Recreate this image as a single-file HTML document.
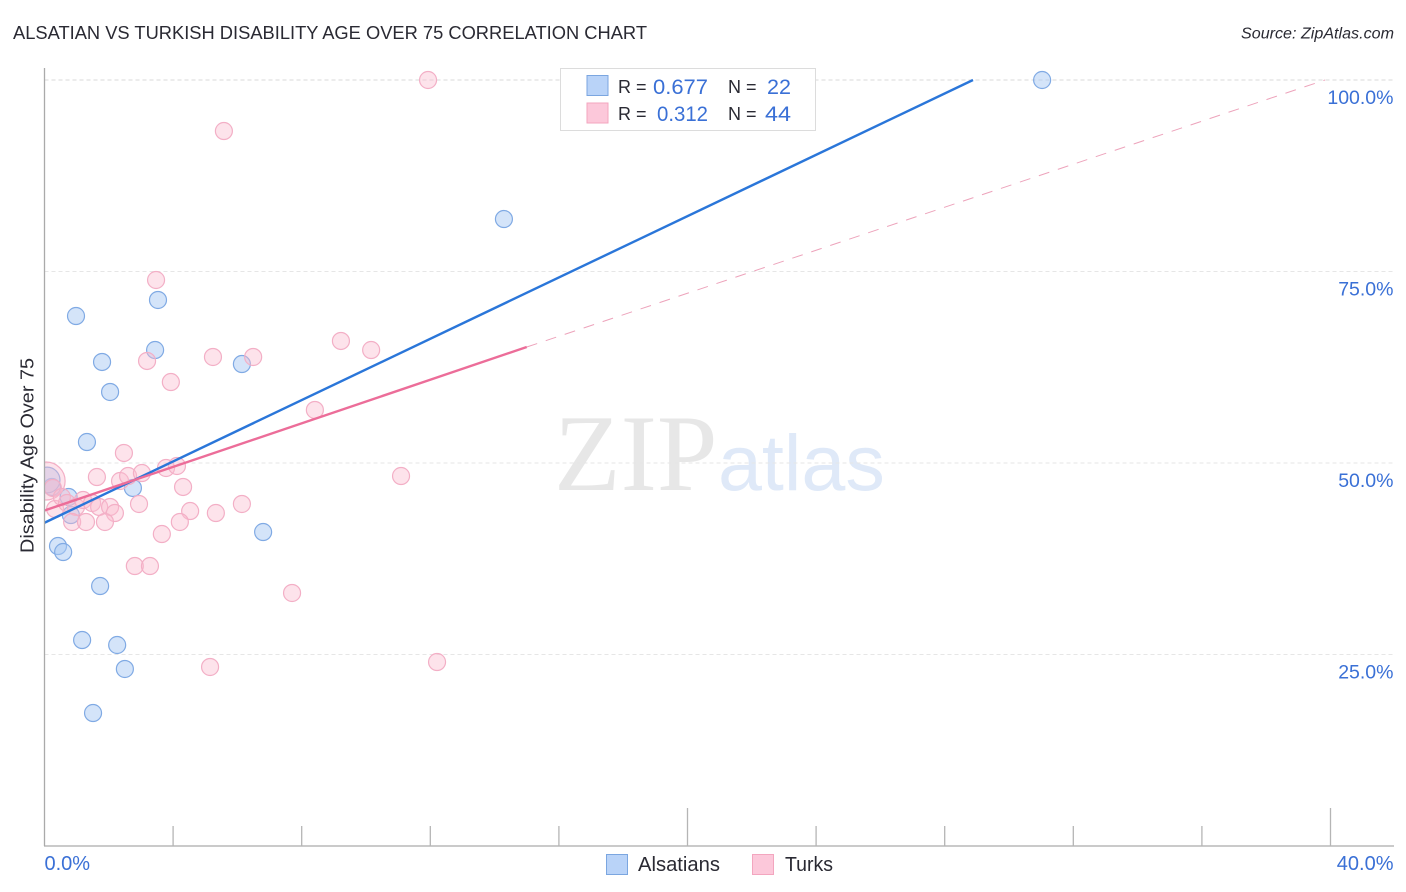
<!DOCTYPE html>
<html lang="en">
<head>
<meta charset="utf-8">
<title>Alsatian vs Turkish Disability Age Over 75 Correlation Chart</title>
<style>
html,body{margin:0;padding:0;background:#fff;}
svg{display:block;font-family:"Liberation Sans",sans-serif;}
</style>
</head>
<body>
<svg id="chart" width="1406" height="892" viewBox="0 0 1406 892" xmlns="http://www.w3.org/2000/svg">
  <rect x="0" y="0" width="1406" height="892" fill="#fff"/>
  <text x="13" y="39" font-size="18.5" fill="#2a2a33" textLength="634" lengthAdjust="spacingAndGlyphs">ALSATIAN VS TURKISH DISABILITY AGE OVER 75 CORRELATION CHART</text>
  <text x="1394" y="38.500" font-size="15.5" font-style="italic" fill="#2a2a33" text-anchor="end" textLength="153" lengthAdjust="spacingAndGlyphs">Source: ZipAtlas.com</text>

  <g>
    <text x="554" y="490" font-family="'Liberation Serif',serif" font-size="109" fill="#e7e7e7">ZIP</text>
    <text x="718" y="490" font-size="79" fill="#dfe9f8">atlas</text>
  </g>

  <g id="grid"></g>
  <g id="marks"></g>
  <rect x="0" y="60" width="44.500" height="786" fill="#fff"/>
  <g id="axes"></g>
  <g id="ylabels"></g>
  <g id="xlabels"></g>

  <text transform="translate(33.500,553) rotate(-90)" font-size="18" fill="#2a2a33" textLength="195" lengthAdjust="spacingAndGlyphs">Disability Age Over 75</text>

  <g>
    <rect x="560.500" y="68.500" width="255" height="62" fill="#fff" stroke="#dcdcdc"/>
    <rect x="587" y="75.500" width="21" height="20" fill="#b9d3f8" stroke="#7ba6e0"/>
    <rect x="587" y="103" width="21" height="20" fill="#fcc8da" stroke="#f3a6bf"/>
    <text x="618" y="93" font-size="18" fill="#2a2a33">R =</text>
    <text x="653" y="94" font-size="21.500" fill="#3a70d6" textLength="55" lengthAdjust="spacingAndGlyphs">0.677</text>
    <text x="728" y="93" font-size="18" fill="#2a2a33">N =</text>
    <text x="767" y="94" font-size="21.500" fill="#3a70d6" textLength="24" lengthAdjust="spacingAndGlyphs">22</text>
    <text x="618" y="120" font-size="18" fill="#2a2a33">R =</text>
    <text x="657" y="121" font-size="21.500" fill="#3a70d6" textLength="51" lengthAdjust="spacingAndGlyphs">0.312</text>
    <text x="728" y="120" font-size="18" fill="#2a2a33">N =</text>
    <text x="765" y="121" font-size="21.500" fill="#3a70d6" textLength="26" lengthAdjust="spacingAndGlyphs">44</text>
  </g>

  <g>
    <rect x="606.500" y="854.500" width="21" height="20" fill="#b9d3f8" stroke="#7ba6e0"/>
    <text x="638" y="871" font-size="20" fill="#2a2a33" textLength="82" lengthAdjust="spacingAndGlyphs">Alsatians</text>
    <rect x="752.500" y="854.500" width="21" height="20" fill="#fcc8da" stroke="#f3a6bf"/>
    <text x="785" y="871" font-size="20" fill="#2a2a33" textLength="48" lengthAdjust="spacingAndGlyphs">Turks</text>
  </g>

<script>
// Data (percent units)
const yTickValues = [25, 50, 75, 100];
const yTickLabels = ["25.0%", "50.0%", "75.0%", "100.0%"];
const xTickValues = [0, 4, 8, 12, 16, 20, 24, 28, 32, 36, 40];
const xEndValues = [0, 40];
const xEndLabels = ["0.0%", "40.0%"];

const alsatianX = [31.03,14.29,3.53,0.98,3.44,1.79,6.14,2.04,1.32,2.75,0.23,0.08,0.75,0.82,0.42,0.58,6.80,1.73,1.17,2.26,2.50,1.51];
const alsatianY = [100,81.85,71.28,69.19,64.75,63.19,62.92,59.27,52.74,46.74,46.87,47.78,45.56,43.21,39.16,38.38,40.99,33.94,26.89,26.24,23.11,17.36];
const alsatianWeight = [1,1,1,1,1,1,1,1,1,1,1,2.3,1,1,1,1,1,1,1,1,1,1];

const turkX = [11.93,5.58,3.47,9.22,10.16,5.24,6.49,3.19,3.93,8.41,2.47,11.09,1.63,2.35,2.60,3.03,3.78,4.12,4.31,2.94,6.14,4.53,5.33,4.21,3.65,2.81,3.28,7.70,5.15,12.21,0.05,0.26,0.33,0.54,0.70,0.98,0.86,1.29,1.20,1.48,1.70,2.04,2.19,1.88];
const turkY = [100,93.34,73.89,65.93,64.75,63.84,63.84,63.32,60.57,56.92,51.31,48.30,48.17,47.65,48.30,48.69,49.35,49.61,46.87,44.65,44.65,43.73,43.47,42.30,40.73,36.55,36.55,33.03,23.37,24.02,47.65,46.74,43.99,45.56,44.78,44.26,42.30,42.30,45.17,44.78,44.26,44.26,43.47,42.30];
const turkWeight = [1,1,1,1,1,1,1,1,1,1,1,1,1,1,1,1,1,1,1,1,1,1,1,1,1,1,1,1,1,1,5,1,1,1,1,1,1,1,1,1,1,1,1,1];

const alsatianTrendX = [0, 28.88];
const alsatianTrendY = [42.2, 100];
const turkTrendX = [0, 15.0];
const turkTrendY = [43.8, 65.14];
const turkDashX = [15.0, 39.83];
const turkDashY = [65.14, 100];

// Axis functions
function xPos(v){ return 44.5 + v * 32.15; }
function yPos(v){ return 846 - v * 7.66; }
function radius(w){ return 8.5 * Math.sqrt(w); }

const NS = "http://www.w3.org/2000/svg";
function make(tag, parent, props){
  const el = document.createElementNS(NS, tag);
  for (const k in props) el.setAttribute(k, props[k]);
  parent.appendChild(el);
  return el;
}

const grid = document.getElementById("grid");
const axes = document.getElementById("axes");
const marks = document.getElementById("marks");
const ylabels = document.getElementById("ylabels");
const xlabels = document.getElementById("xlabels");

yTickValues.forEach(function(v, i){
  const g = make("line", grid, {x1:44.5, x2:1394, y1:yPos(v), y2:yPos(v), stroke: v === 100 ? "#d8d8d8" : "#e6e6e6", "stroke-width":1, "stroke-dasharray":"4 3"});
  
  
  const t = make("text", ylabels, {x:1393.5, y:yPos(v) + 24, "font-size":19.5, fill:"#3a70d6", "text-anchor":"end"});
  t.textContent = yTickLabels[i];
  
  
});

const yAxisLine = make("line", axes, {x1:44.5, x2:44.5, y1:68, y2:846, stroke:"#aaaaaa", "stroke-width":1.3});


const xAxisLine = make("line", axes, {x1:44, x2:1394, y1:846, y2:846, stroke:"#aaaaaa", "stroke-width":1.3});



xTickValues.forEach(function(v){
  if (v === 0) return;
  const tall = v === 20 || v === 40;
  const tick = make("line", axes, {x1:xPos(v), x2:xPos(v), y1: tall ? 808 : 826, y2:846, stroke:"#b5b5b5", "stroke-width":1.3});
  
  
});

xEndValues.forEach(function(v, i){
  const t = make("text", xlabels, {x: i === 0 ? xPos(v) : xPos(v) + 63, y:870, "font-size":20, fill:"#3a70d6", "text-anchor": i === 0 ? "start" : "end"});
  t.textContent = xEndLabels[i];
  
  
});

alsatianX.forEach(function(v, i){
  const c = make("circle", marks, {cx:xPos(v), cy:yPos(alsatianY[i]), r:radius(alsatianWeight[i]), fill:"#a9c9f3", "fill-opacity":0.5, stroke:"#80aae4", "stroke-width":1.2});
  
  
});

turkX.forEach(function(v, i){
  const c = make("circle", marks, {cx:xPos(v), cy:yPos(turkY[i]), r:radius(turkWeight[i]), fill:"#fbbcd0", "fill-opacity":0.42, stroke:"#f3afc6", "stroke-width":1.2});
  
  
});

const turkDash = make("line", marks, {x1:xPos(turkDashX[0]), y1:yPos(turkDashY[0]), x2:xPos(turkDashX[1]), y2:yPos(turkDashY[1]), stroke:"#eda3bb", "stroke-width":1, "stroke-dasharray":"11 9"});



const alsatianTrend = make("line", marks, {x1:xPos(alsatianTrendX[0]), y1:yPos(alsatianTrendY[0]), x2:xPos(alsatianTrendX[1]), y2:yPos(alsatianTrendY[1]), stroke:"#2a76d9", "stroke-width":2.4});



const turkTrend = make("line", marks, {x1:xPos(turkTrendX[0]), y1:yPos(turkTrendY[0]), x2:xPos(turkTrendX[1]), y2:yPos(turkTrendY[1]), stroke:"#ec6d99", "stroke-width":2.4});


</script>
</svg>
</body>
</html>
